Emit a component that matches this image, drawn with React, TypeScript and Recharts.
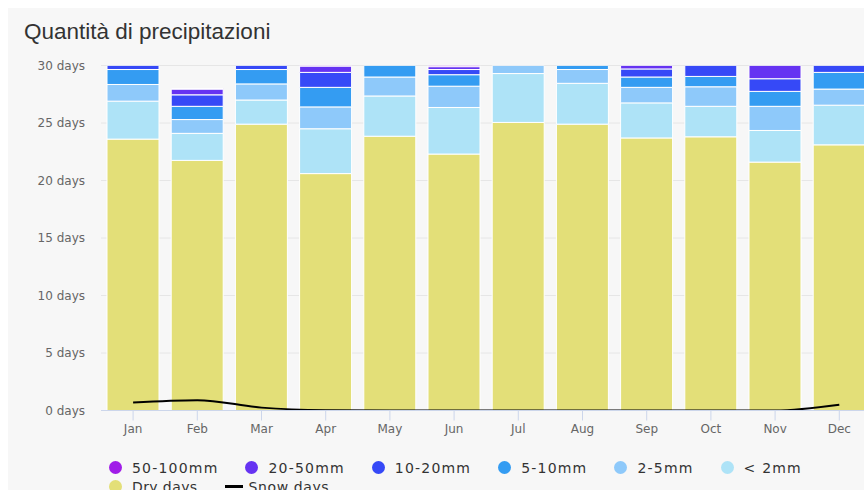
import { ComposedChart, Bar, Line, XAxis, YAxis, CartesianGrid } from 'recharts';

const months = ['Jan', 'Feb', 'Mar', 'Apr', 'May', 'Jun', 'Jul', 'Aug', 'Sep', 'Oct', 'Nov', 'Dec'];
const dryDays = [23.6, 21.75, 24.9, 20.6, 23.85, 22.3, 25.05, 24.9, 23.7, 23.8, 21.6, 23.1];
const under2mm = [3.3, 2.35, 2.1, 3.9, 3.5, 4.05, 4.25, 3.55, 3.05, 2.65, 2.75, 3.45];
const mm2to5 = [1.45, 1.2, 1.4, 1.9, 1.65, 1.85, 1.3, 1.2, 1.35, 1.7, 2.1, 1.4];
const mm5to10 = [1.3, 1.15, 1.25, 1.7, 1.6, 1.0, 0.35, 1.0, 0.9, 0.9, 1.3, 1.45];
const mm10to20 = [0.9, 1.0, 1.0, 1.3, 0.35, 0.45, 0.05, 0.3, 0.7, 1.5, 1.1, 1.2];
const mm20to50 = [0.35, 0.5, 0.3, 0.55, 0.05, 0.25, 0, 0.05, 0.3, 0.4, 1.15, 0.3];
const mm50to100 = [0.1, 0.05, 0.05, 0.05, 0, 0.1, 0, 0, 0, 0.05, 0, 0.1];
const snowDays = [0.7, 0.9, 0.25, 0.03, 0, 0, 0, 0, 0, 0, 0, 0.5];
const yTicks = [0, 5, 10, 15, 20, 25, 30];

// bottom to top
const series = [
  { key: 'dry', name: 'Dry days', color: '#e3df78', values: dryDays },
  { key: 'lt2', name: '< 2mm', color: '#aee3f7', values: under2mm },
  { key: 'r2', name: '2-5mm', color: '#8ec9fa', values: mm2to5 },
  { key: 'r5', name: '5-10mm', color: '#349cf2', values: mm5to10 },
  { key: 'r10', name: '10-20mm', color: '#3649f7', values: mm10to20 },
  { key: 'r20', name: '20-50mm', color: '#6633f2', values: mm20to50 },
  { key: 'r50', name: '50-100mm', color: '#a01de8', values: mm50to100 }
];

const data = months.map((m, i) => {
  const row: Record<string, string | number> = { month: m, snow: snowDays[i] };
  series.forEach((s) => {
    row[s.key] = s.values[i];
  });
  return row;
});

const legendOrder = ['r50', 'r20', 'r10', 'r5', 'r2', 'lt2', 'dry'];

const font = '"DejaVu Sans", Verdana, sans-serif';

const LegendBlock = () => (
  <div
    style={{
      position: 'absolute',
      left: 101,
      top: 450,
      width: 720,
      display: 'flex',
      flexWrap: 'wrap',
      columnGap: 27,
      fontFamily: font,
      fontSize: 14,
      letterSpacing: 1.2,
      color: '#333'
    }}
  >
    {legendOrder.map((k) => {
      const s = series.find((x) => x.key === k)!;
      return (
        <div key={k} style={{ display: 'flex', alignItems: 'center', height: 19 }}>
          <span
            style={{ width: 13, height: 13, borderRadius: '50%', background: s.color, marginRight: 10 }}
          />
          <span style={k === 'dry' ? { letterSpacing: 0.4 } : undefined}>{s.name}</span>
        </div>
      );
    })}
    <div style={{ display: 'flex', alignItems: 'center', height: 19 }}>
      <span style={{ width: 18, height: 3, background: '#000', marginRight: 6 }} />
      <span style={{ letterSpacing: 0.6 }}>Snow days</span>
    </div>
  </div>
);

export default function App() {
  return (
    <div
      style={{
        position: 'absolute',
        left: 8,
        top: 8,
        width: 856,
        height: 482,
        overflow: 'hidden',
        background: '#f7f7f7'
      }}
    >
      <div
        style={{
          position: 'absolute',
          left: 16,
          top: 13,
          fontFamily: '"Liberation Sans", Arial, sans-serif',
          fontSize: 22.5,
          lineHeight: 1,
          color: '#333'
        }}
      >
        Quantità di precipitazioni
      </div>
      <ComposedChart
        width={880}
        height={440}
        data={data}
        margin={{ top: 57.5, right: 16.6, left: 0, bottom: 7.5 }}
        barCategoryGap={0}
      >
        <CartesianGrid vertical={false} stroke="#e6e6e6" />
        <XAxis
          dataKey="month"
          height={30}
          stroke="#ccd6eb"
          tickSize={10}
          tickMargin={4}
          tick={{ fill: '#666', fontSize: 12, fontFamily: font }}
        />
        <YAxis
          width={93}
          domain={[0, 30]}
          ticks={yTicks}
          allowDataOverflow
          axisLine={false}
          tickLine={false}
          tickMargin={10}
          tick={{ fill: '#666', fontSize: 12, fontFamily: font }}
          tickFormatter={(v) => `${v} days`}
        />
        {series.map((s) => (
          <Bar
            key={s.key}
            dataKey={s.key}
            name={s.name}
            stackId="p"
            fill={s.color}
            stroke="#fff"
            strokeWidth={1}
            barSize={52}
            isAnimationActive={false}
          />
        ))}
        <Line
          type="monotone"
          dataKey="snow"
          name="Snow days"
          stroke="#000"
          strokeWidth={2}
          dot={false}
          activeDot={false}
          isAnimationActive={false}
        />
      </ComposedChart>
      <LegendBlock />
    </div>
  );
}
